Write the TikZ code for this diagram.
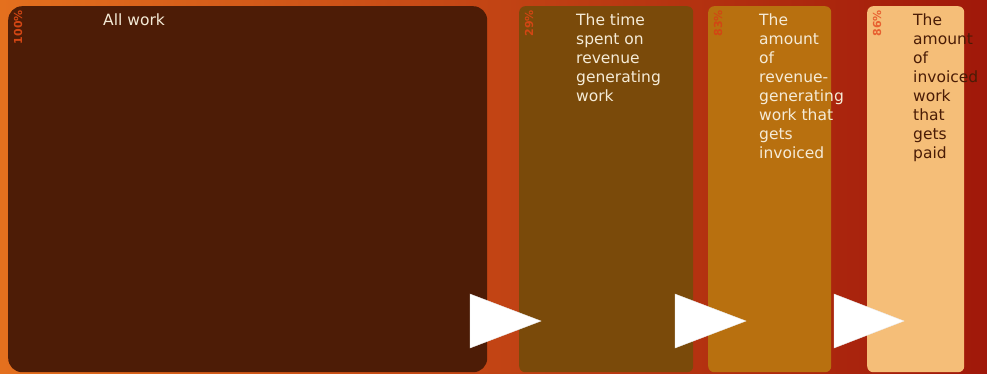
\documentclass[tikz,border=0pt]{standalone}
\usepackage{fontspec}
\setmainfont{DejaVu Sans}
\definecolor{bgL}{RGB}{228,112,30}
\definecolor{bgR}{RGB}{160,24,10}
\definecolor{cA}{RGB}{77,28,6}
\definecolor{cB}{RGB}{122,74,10}
\definecolor{cC}{RGB}{184,112,15}
\definecolor{cD}{RGB}{245,190,120}
\definecolor{pct}{RGB}{210,70,20}
\definecolor{pctD}{RGB}{232,96,48}
\definecolor{txtL}{RGB}{245,235,215}
\definecolor{txtD}{RGB}{74,28,6}
\begin{document}
\begin{tikzpicture}[x=1pt,y=-1pt,
  panel/.style={anchor=north west,inner sep=0pt,draw=none},
  lbl/.style={anchor=north west,inner sep=0pt,align=left,font=\fontsize{15.5}{19}\selectfont},
  pcl/.style={rotate=90,anchor=east,inner sep=0pt,font=\fontsize{11}{12}\selectfont\bfseries},
  tri/.style={fill=white,draw=white!85!gray,line width=0.4pt}]
\useasboundingbox (0,0) rectangle (987,373);
\shade[left color=bgL,right color=bgR] (0,0) rectangle (987,373);
\node[panel,fill=cA,rounded corners=14pt,minimum width=479pt,minimum height=366pt] (b1) at (8,6) {};
\node[panel,fill=cB,rounded corners=6pt,minimum width=174pt,minimum height=366pt] (b2) at (519,6) {};
\node[panel,fill=cC,rounded corners=6pt,minimum width=123pt,minimum height=366pt] (b3) at (708,6) {};
\node[panel,fill=cD,rounded corners=6pt,minimum width=97pt,minimum height=366pt] (b4) at (867,6) {};
\node[pcl,text=pct] (p1) at (18,10) {100\%};
\node[pcl,text=pct] (p2) at (529,10) {29\%};
\node[pcl,text=pct] (p3) at (718,10) {83\%};
\node[pcl,text=pctD] (p4) at (877,10) {86\%};
\node[lbl,text=txtL] (t1) at (103,14) {All work};
\node[lbl,text=txtL] (t2) at (576,14) {The time\\spent on\\revenue\\generating\\work};
\node[lbl,text=txtL] (t3) at (759,14) {The\\amount\\of\\revenue-\\generating\\work that\\gets\\invoiced};
\node[lbl,text=txtD] (t4) at (913,14) {The\\amount\\of\\invoiced\\work\\that\\gets\\paid};
\coordinate (a1) at (470,294);
\filldraw[tri] (a1) -- ++(71,27) -- ++(-71,27) -- cycle;
\coordinate (a2) at (675,294);
\filldraw[tri] (a2) -- ++(71,27) -- ++(-71,27) -- cycle;
\coordinate (a3) at (834,294);
\filldraw[tri] (a3) -- ++(70,27) -- ++(-70,27) -- cycle;
\end{tikzpicture}
\end{document}
